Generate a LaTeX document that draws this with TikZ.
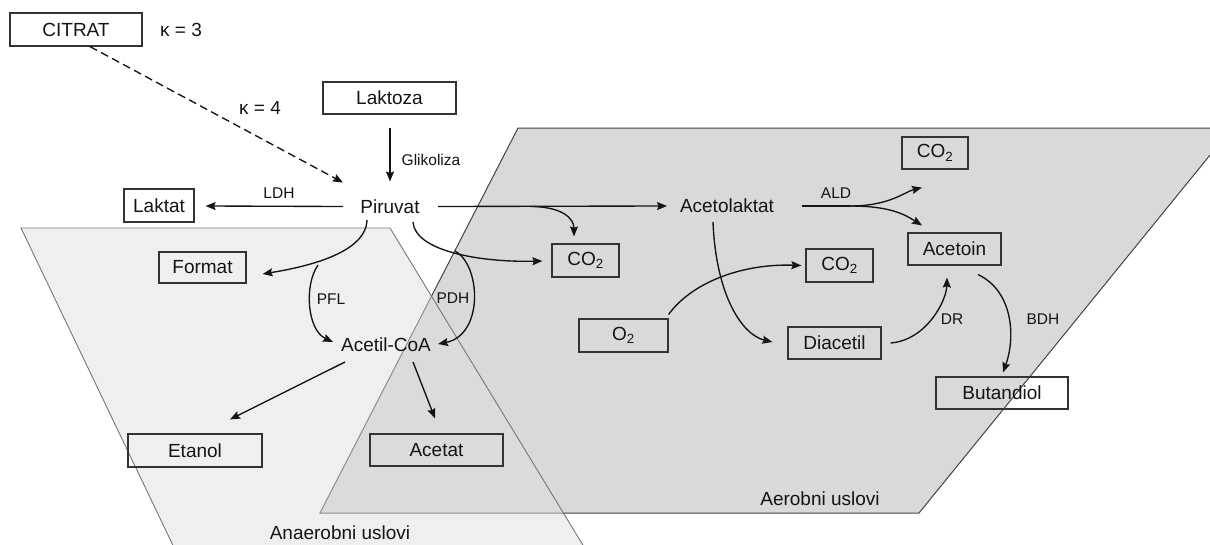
\documentclass[tikz,border=0pt]{standalone}
\usepackage{fontspec}
\setmainfont{Liberation Sans}
\usetikzlibrary{arrows.meta,calc}
\definecolor{aerob}{HTML}{D9D9D9}
\definecolor{anaerob}{HTML}{DEDEDE}
\definecolor{edgeA}{HTML}{444444}
\definecolor{edgeB}{HTML}{777777}
\definecolor{ink}{HTML}{141414}
\definecolor{boxline}{HTML}{333333}
\tikzset{
  bigtxt/.style={font=\fontsize{19}{22}\selectfont, text=ink, inner sep=0pt},
  smalltxt/.style={font=\fontsize{15.5}{18}\selectfont, text=ink, inner sep=0pt},
  metabox/.style={bigtxt, draw=boxline, line width=1.2pt, minimum height=32pt, anchor=center},
  arr/.style={draw=ink, line width=1.35pt, -{Stealth[length=10pt,width=8pt,inset=1.5pt]}},
  dasharr/.style={arr, dash pattern=on 8pt off 4.5pt},
}
\begin{document}
\begin{tikzpicture}[x=1pt,y=-1pt]
\useasboundingbox (0,0) rectangle (1210,544);
% regions
\begin{scope}
\clip (0,0) rectangle (1210,544);
\fill[aerob] (518,128) -- (1232,128) -- (919,513) -- (320,513) -- cycle;
\draw[edgeA, line width=1pt] (518,128) -- (1232,128) -- (919,513) -- (320,513) -- cycle;
\fill[anaerob, opacity=0.48] (21,228) -- (390,228) -- (592,560) -- (180,560) -- cycle;
\draw[edgeB, line width=0.9pt] (180,560) -- (21,228) -- (390,228) -- (592,560);
\end{scope}
% boxes
\node[metabox, minimum width=132pt, minimum height=33pt] (citrat) at (76,29.5) {CITRAT};
\node[metabox, minimum width=133pt] (laktoza) at (389.5,98) {Laktoza};
\node[metabox, minimum width=70pt, minimum height=33pt] (laktat) at (159,205.5) {Laktat};
\node[metabox, minimum width=66pt] (co2c) at (935,153) {CO\textsubscript{2}};
\node[metabox, minimum width=93pt] (acetoin) at (954.5,249) {Acetoin};
\node[metabox, minimum width=67pt, minimum height=33pt] (co2a) at (585.5,260.5) {CO\textsubscript{2}};
\node[metabox, minimum width=67pt, minimum height=33pt] (co2b) at (839.5,265.5) {CO\textsubscript{2}};
\node[metabox, minimum width=87pt, minimum height=31pt] (format) at (202.5,267.5) {Format};
\node[metabox, minimum width=89pt, minimum height=33pt] (o2) at (623.5,335.5) {O\textsubscript{2}};
\node[metabox, minimum width=93pt] (diacetil) at (834.5,343) {Diacetil};
\node[metabox, minimum width=132pt] (butandiol) at (1002,393) {Butandiol};
\node[metabox, minimum width=134pt, minimum height=33pt] (etanol) at (195,450.5) {Etanol};
\node[metabox, minimum width=133pt] (acetat) at (436.5,450) {Acetat};
% plain text nodes
\node[bigtxt] (piruvat) at (390,206.5) {Piruvat};
\node[bigtxt] (acetolaktat) at (727,206) {Acetolaktat};
\node[bigtxt] (acetilcoa) at (386,345) {Acetil-CoA};
\node[bigtxt] (k3) at (181,30) {κ = 3};
\node[bigtxt] (k4) at (260,108) {κ = 4};
\node[smalltxt] (glik) at (431,160) {Glikoliza};
\node[smalltxt] (ldh) at (279,193) {LDH};
\node[smalltxt] (ald) at (836,193) {ALD};
\node[smalltxt] (pfl) at (331,299) {PFL};
\node[smalltxt] (pdh) at (453,298) {PDH};
\node[smalltxt] (dr) at (952,319) {DR};
\node[smalltxt] (bdh) at (1043,319) {BDH};
\node[bigtxt] (aerobni) at (820,499) {Aerobni uslovi};
\node[bigtxt] (anaerobni) at (340,533) {Anaerobni uslovi};
% helper coordinates (branch points)
\coordinate (f1) at ($(piruvat)+(140,0)$);
\coordinate (pdhs) at (455,251);
\coordinate (pfls) at (318,265);
\coordinate (aldf) at ($(acetolaktat)+(123,0)$);
% connectors
\draw[dasharr] ($(citrat.south)+(14,0)$) -- ($(piruvat)+(-47,-24)$);
\draw[arr] ($(laktoza.south)+(0.5,13)$) -- ($(piruvat)+(0,-25)$);
\draw[arr] ($(piruvat)+(-47,0)$) -- ($(laktat.east)+(11,0.5)$);
\draw[arr] ($(piruvat)+(48,0)$) -- ($(acetolaktat)+(-60,0)$);
\draw[arr] (f1) .. controls ($(f1)+(32,0)$) and ($(co2a.north)+(-11.5,-25)$) .. ($(co2a.north)+(-11.5,-7)$);
\draw[arr] ($(piruvat)+(23,15.5)$) .. controls ($(piruvat)+(25,45)$) and ($(co2a.west)+(-70,2)$) .. ($(co2a.west)+(-9,0.5)$);
\draw[arr] (pdhs) .. controls (481,265) and (484,335) .. ($(acetilcoa)+(52,-1)$);
\draw[arr] ($(piruvat)+(-23,13.5)$) .. controls ($(piruvat)+(-24,48)$) and ($(format.east)+(55,0)$) .. ($(format.east)+(16,6.5)$);
\draw[arr] (pfls) .. controls (304,285) and (307,330) .. ($(acetilcoa)+(-53,-3)$);
\draw[arr] ($(acetilcoa)+(-41,17)$) -- ($(etanol.north)+(35,-14)$);
\draw[arr] ($(acetilcoa)+(27,17)$) -- ($(acetat.north)+(-1.5,-15)$);
\draw[arr] ($(acetolaktat)+(-14,16)$) .. controls ($(acetolaktat)+(-11,90)$) and ($(diacetil.west)+(-45,-8)$) .. ($(diacetil.west)+(-15,-1)$);
\draw[arr] ($(o2.north east)+(0,-4)$) .. controls ($(o2.north east)+(25,-38)$) and ($(co2b.west)+(-60,-2)$) .. ($(co2b.west)+(-4,0)$);
\draw[line width=1.35pt, ink] ($(acetolaktat)+(75,0)$) -- (aldf);
\draw[arr] (aldf) .. controls ($(aldf)+(40,0)$) and ($(co2c.south)+(-30,22)$) .. ($(co2c.south)+(-13,18)$);
\draw[arr] (aldf) .. controls ($(aldf)+(40,0)$) and ($(acetoin.north)+(-50,-18)$) .. ($(acetoin.north)+(-32.5,-7)$);
\draw[arr] ($(diacetil.east)+(9,0)$) .. controls ($(diacetil.east)+(45,-3)$) and ($(acetoin.south)+(-8,35)$) .. ($(acetoin.south)+(-7.5,12)$);
\draw[arr] ($(acetoin.south)+(23.5,9)$) .. controls ($(acetoin.south)+(58,25)$) and ($(butandiol.north)+(14,-40)$) .. ($(butandiol.north)+(1,-4)$);
\end{tikzpicture}
\end{document}
